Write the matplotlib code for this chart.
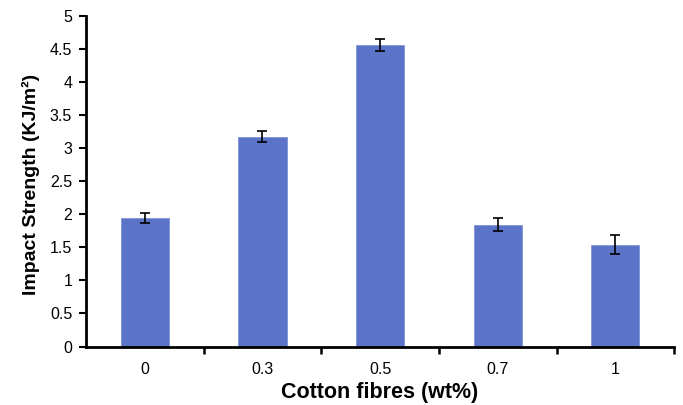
import matplotlib
matplotlib.use("Agg")
import matplotlib.pyplot as plt
import numpy as np

categories = ["0", "0.3", "0.5", "0.7", "1"]
values = [1.94, 3.17, 4.55, 1.84, 1.54]
errors = [0.07, 0.08, 0.09, 0.10, 0.15]
yticks = [0, 0.5, 1, 1.5, 2, 2.5, 3, 3.5, 4, 4.5, 5]
ytick_labels = ["0", "0.5", "1", "1.5", "2", "2.5", "3", "3.5", "4", "4.5", "5"]

plt.rcParams['font.family'] = ['Liberation Sans', 'DejaVu Sans']

fig = plt.figure(figsize=(6.83, 4.05), dpi=100)
ax = fig.add_axes([0.126, 0.1444, 0.861, 0.8173])

x = np.arange(len(categories))
ax.bar(x, values, width=0.41, color="#5B74C8", edgecolor="#7F95D9", linewidth=0.6,
       yerr=errors, error_kw=dict(ecolor="black", elinewidth=1.2, capsize=3.5, capthick=1.2),
       zorder=2)

ax.set_xlim(-0.5, len(categories) - 0.5)
ax.set_ylim(0, 5)
ax.set_yticks(yticks)
ax.set_yticklabels(ytick_labels)
ax.set_xticks(x)
ax.set_xticklabels(categories)
ax.set_xticks(np.arange(len(categories)) + 0.5, minor=True)

ax.tick_params(axis='x', which='major', length=0, pad=11, labelsize=11.5)
ax.tick_params(axis='x', which='minor', length=5, width=1.8, direction='out')
ax.tick_params(axis='y', which='major', length=5, width=1.5, direction='out', pad=5, labelsize=11.5)

for s in ['top', 'right']:
    ax.spines[s].set_visible(False)
for s in ['left', 'bottom']:
    ax.spines[s].set_linewidth(2)

ax.set_xlabel("Cotton fibres (wt%)", fontsize=15.5, fontweight='bold', labelpad=4)
ax.set_ylabel("Impact Strength (KJ/m²)", fontsize=14, fontweight='bold', labelpad=6)
ax.yaxis.set_label_coords(-0.078, 0.49)

fig.savefig("out.png", dpi=100)
